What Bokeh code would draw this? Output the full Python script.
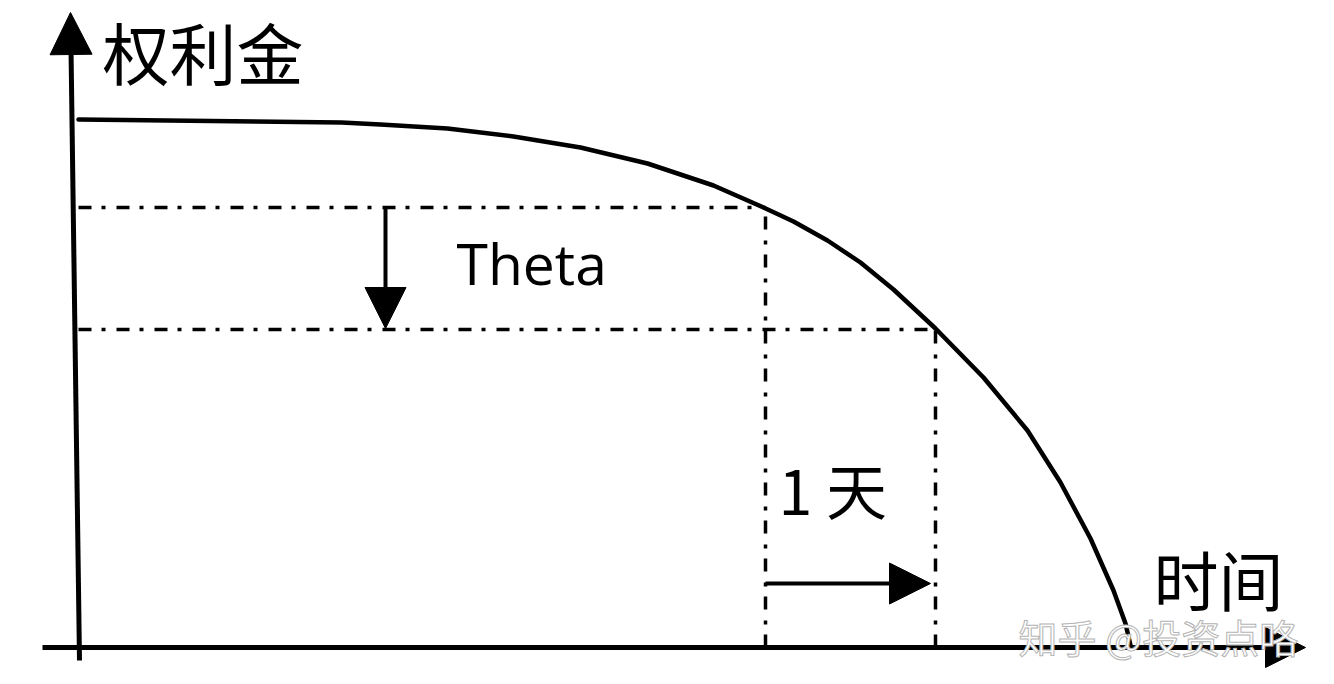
from bokeh.plotting import figure
from bokeh.models import Range1d, Arrow, NormalHead, Label
from bokeh.embed import file_html
from bokeh.resources import INLINE

# ---- data (illustrative option premium decay curve) ----
time = [0, 263, 302, 369, 435, 502, 569, 635, 685, 715, 749, 782, 815, 857,
        905, 949, 982, 1012, 1035, 1047, 1052]
premium = [528, 525, 523, 519, 511, 500, 484, 462, 440, 426, 407, 385, 358, 319,
           270, 217, 165, 109, 57, 24, 2]

t_now, t_next = 687, 857          # today / one day later
p_now, p_next = 440, 318          # premium today / one day later

# axes extents
x_axis = [-36, 1227]
y_axis_bottom = [1, -13]
y_axis_top = [-8, 635]

W, H = 1318, 668
p = figure(width=W, height=H, output_backend="svg", toolbar_location=None,
           x_range=Range1d(-78, 1240), y_range=Range1d(-21, 647),
           min_border=0, background_fill_color="white", border_fill_color="white")
p.axis.visible = False
p.grid.visible = False
p.outline_line_color = None

# dash-dot guide lines
dash = "13 10 4 11"
p.multi_line(xs=[[0, t_now], [0, t_next], [t_now, t_now], [t_next, t_next]],
             ys=[[p_now, p_now], [p_next, p_next], [0, p_now], [0, p_next]],
             line_color="black", line_width=3.5, line_dash=dash)

# curve
p.line(time, premium, line_color="black", line_width=4.5, line_join="round", line_cap="round")

# axes with arrow heads
p.add_layout(Arrow(end=NormalHead(size=40, fill_color="black", line_color="black"),
                   x_start=x_axis[0], y_start=0, x_end=x_axis[1], y_end=0,
                   line_width=5, line_color="black"))
p.add_layout(Arrow(end=NormalHead(size=42, fill_color="black", line_color="black"),
                   x_start=y_axis_bottom[0], y_start=y_axis_bottom[1],
                   x_end=y_axis_top[0], y_end=y_axis_top[1],
                   line_width=5, line_color="black"))

# Theta arrow (premium drop)
theta_x = 307
p.add_layout(Arrow(end=NormalHead(size=41, fill_color="black", line_color="black"),
                   x_start=theta_x, y_start=p_now, x_end=theta_x, y_end=p_next + 1,
                   line_width=4, line_color="black"))
# 1 day arrow
day_y = 64
p.add_layout(Arrow(end=NormalHead(size=41, fill_color="black", line_color="black"),
                   x_start=t_now, y_start=day_y, x_end=t_next - 5, y_end=day_y,
                   line_width=4, line_color="black"))

cjk = "Noto Sans CJK SC"
p.add_layout(Label(x=24, y=597, text="权利金", text_font=cjk, text_font_size="67px",
                   text_baseline="middle", text_align="left", text_color="black"))
p.add_layout(Label(x=1075, y=70, text="时间", text_font=cjk, text_font_size="65px",
                   text_baseline="middle", text_align="left", text_color="black"))
p.add_layout(Label(x=378, y=385, text="Theta", text_font="Open Sans", text_font_size="57px",
                   text_baseline="alphabetic", text_align="left", text_color="black"))
p.add_layout(Label(x=700, y=159, text="1 天", text_font=cjk, text_font_size="61px",
                   text_baseline="middle", text_align="left", text_color="black"))
p.add_layout(Label(x=940, y=12, text="知乎 @投资点咯", text_font=cjk, text_font_size="39px",
                   text_baseline="middle", text_align="left", text_color="white",
                   text_outline_color="#b4b4b4"))

open("out.html", "w").write(file_html(p, INLINE))
